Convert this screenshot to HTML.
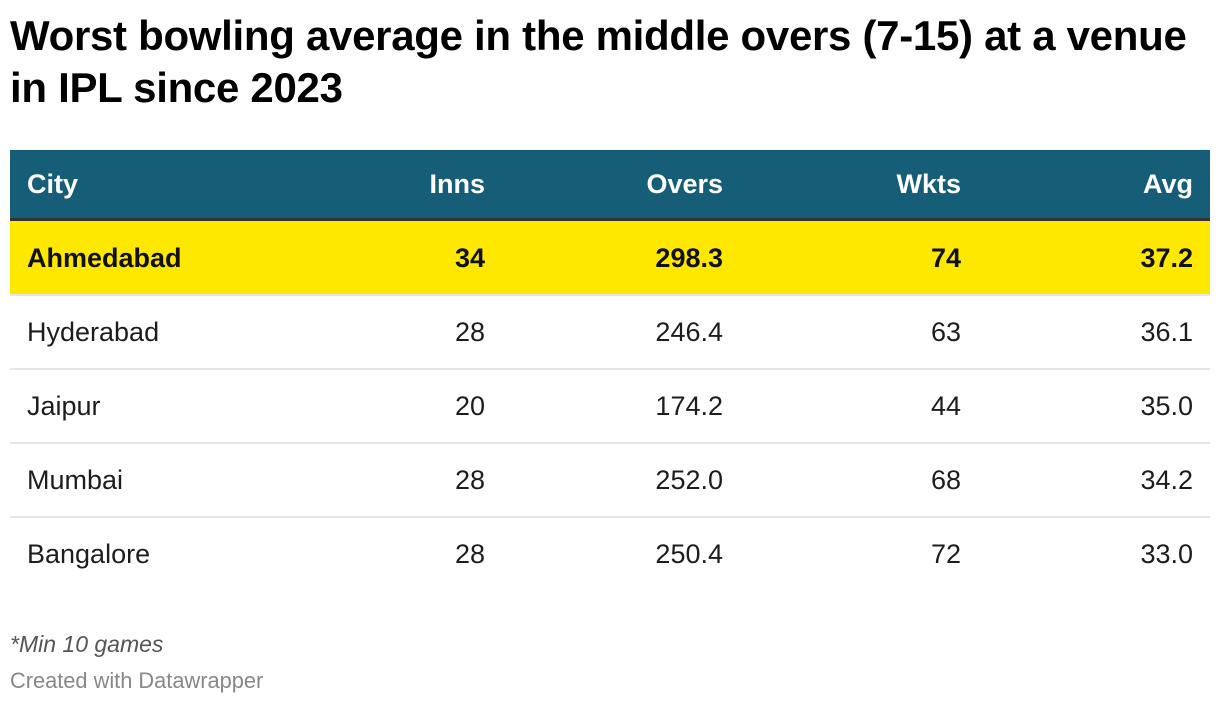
<!DOCTYPE html>
<html><head><meta charset="utf-8"><style>
body{margin:0;width:1220px;height:704px;background:#fff;font-family:"Liberation Sans",Arial,sans-serif;position:relative;overflow:hidden;color:#1d1d1d}
.t{position:absolute;left:10px;font-weight:bold;font-size:42px;color:#000;white-space:nowrap;letter-spacing:-0.3px}
.bar{position:absolute;left:10px;width:1200px}
.c{position:absolute;font-size:27px;white-space:nowrap;line-height:30px}
.r{text-align:right}
</style></head><body>
<div class="t" style="top:12px">Worst bowling average in the middle overs (7-15) at a venue</div>
<div class="t" style="top:64px">in IPL since 2023</div>
<div class="bar" style="top:150px;height:68px;background:#165e78"></div>
<div class="bar" style="top:218px;height:3px;background:#333"></div>
<div class="bar" style="top:221px;height:73px;background:#ffe800"></div>
<div class="bar" style="top:294px;height:2px;background:#e6e6e9"></div>
<div class="bar" style="top:368px;height:2px;background:#e6e6e9"></div>
<div class="bar" style="top:442px;height:2px;background:#e6e6e9"></div>
<div class="bar" style="top:516px;height:2px;background:#e6e6e9"></div>
<div id="rows"></div>
<script>
const rows=[["City","Inns","Overs","Wkts","Avg",169,"h"],["Ahmedabad","34","298.3","74","37.2",243,"b"],["Hyderabad","28","246.4","63","36.1",317,""],["Jaipur","20","174.2","44","35.0",391,""],["Mumbai","28","252.0","68","34.2",465,""],["Bangalore","28","250.4","72","33.0",539,""]];
const rx=[485,723,961,1193];let h="";
for(const r of rows){const st=r[6]=="h"?"color:#fff;font-weight:bold;":r[6]=="b"?"color:#111;font-weight:bold;":"";
h+=`<div class="c" style="left:27px;top:${r[5]}px;${st}">${r[0]}</div>`;
for(let i=0;i<4;i++)h+=`<div class="c r" style="right:${1220-rx[i]}px;top:${r[5]}px;${st}">${r[i+1]}</div>`;}
document.getElementById("rows").innerHTML=h;
</script>
<div class="c" style="left:10px;top:629px;font-size:23px;font-style:italic;color:#555">*Min 10 games</div>
<div class="c" style="left:10px;top:666px;font-size:21.8px;color:#888">Created with Datawrapper</div>
</body></html>
